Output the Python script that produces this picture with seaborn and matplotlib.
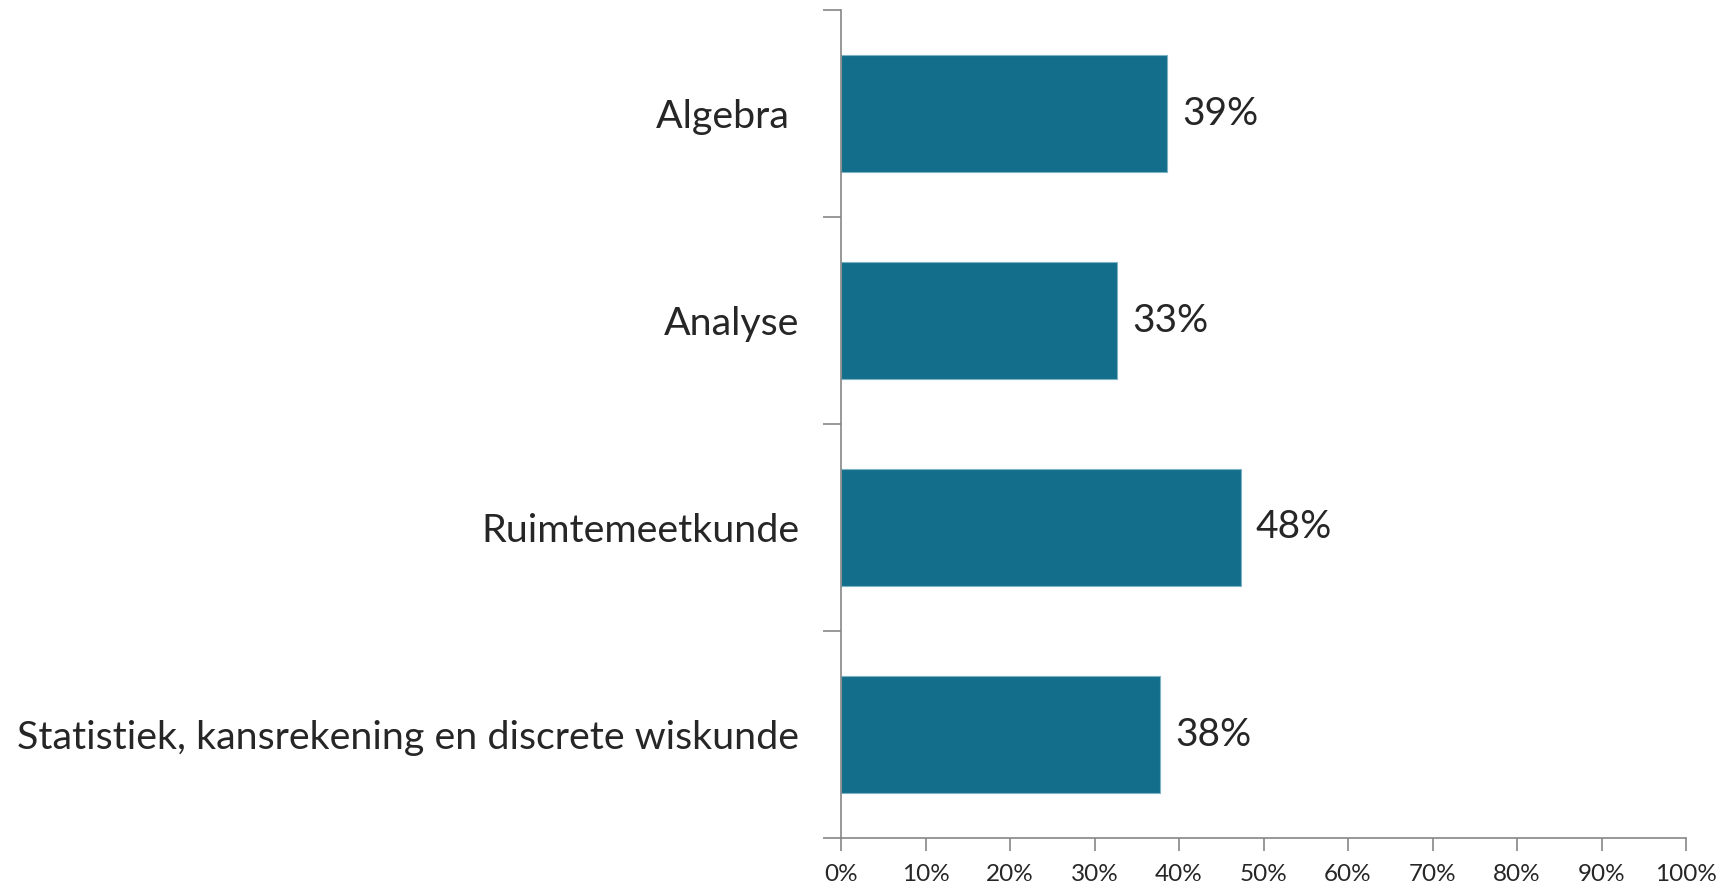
import matplotlib
matplotlib.use("Agg")
import matplotlib.pyplot as plt
import seaborn as sns
import pandas as pd
from matplotlib.ticker import PercentFormatter, MultipleLocator

categories = ["Algebra ", "Analyse", "Ruimtemeetkunde",
              "Statistiek, kansrekening en discrete wiskunde"]
values = [0.386, 0.327, 0.473, 0.377]
value_labels = ["39%", "33%", "48%", "38%"]

df = pd.DataFrame({"domein": categories, "aandeel": values})

sns.set_style("white")
plt.rcParams["font.family"] = ["Lato", "DejaVu Sans"]

fig = plt.figure(figsize=(17.35, 8.89), dpi=100)
ax = fig.add_axes([841 / 1735, 1 - 838 / 889, 845 / 1735, 828 / 889])

sns.barplot(data=df, x="aandeel", y="domein", orient="h", color="#126E8A",
            saturation=1, width=0.57, edgecolor="#7fb3c4", linewidth=0.8, ax=ax)

ax.set_xlim(0, 1)
ax.set_ylim(3.5, -0.5)
ax.xaxis.set_major_locator(MultipleLocator(0.1))
ax.xaxis.set_major_formatter(PercentFormatter(1.0, decimals=0))

# y ticks sit between the categories, labels in the middle
ax.set_yticks([-0.5, 0.5, 1.5, 2.5, 3.5])
ax.set_yticklabels([])
ax.set_yticks(range(len(categories)), minor=True)
ax.set_yticklabels(categories, minor=True, fontsize=28.4)
ax.tick_params(axis="y", which="minor", length=0, pad=30)
ax.tick_params(axis="y", which="major", length=13, width=1.2, color="#868686",
               direction="out", left=True)
ax.tick_params(axis="x", length=9, width=1.2, color="#868686", direction="out",
               bottom=True, labelsize=17.5, pad=10)

for s in ["top", "right"]:
    ax.spines[s].set_visible(False)
for s in ["left", "bottom"]:
    ax.spines[s].set_color("#868686")
    ax.spines[s].set_linewidth(1.2)

for i, (v, lab) in enumerate(zip(values, value_labels)):
    ax.annotate(lab, (v, i), xytext=(11, 0), textcoords="offset points",
                va="center", ha="left", fontsize=28)

ax.set_xlabel("")
ax.set_ylabel("")

fig.savefig("out.png", dpi=100)
